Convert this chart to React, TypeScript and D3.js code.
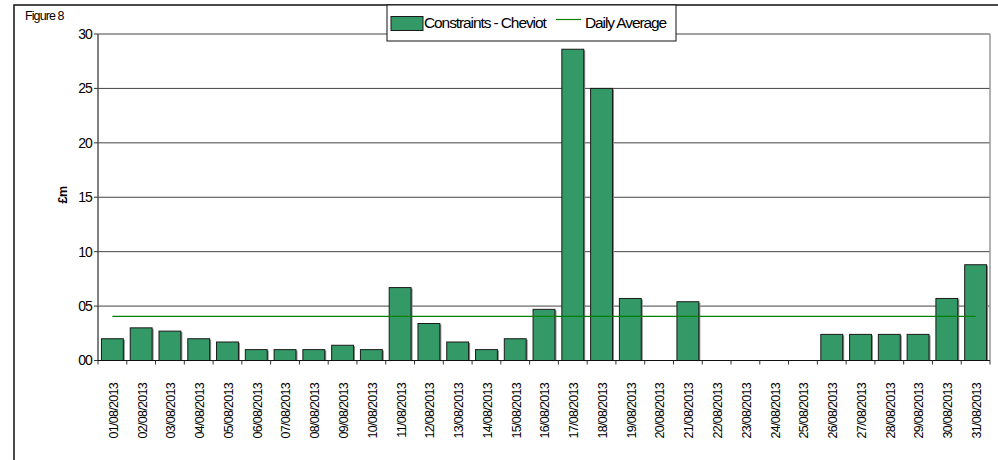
import * as d3 from "d3";

const dates = [
  "01/08/2013", "02/08/2013", "03/08/2013", "04/08/2013", "05/08/2013",
  "06/08/2013", "07/08/2013", "08/08/2013", "09/08/2013", "10/08/2013",
  "11/08/2013", "12/08/2013", "13/08/2013", "14/08/2013", "15/08/2013",
  "16/08/2013", "17/08/2013", "18/08/2013", "19/08/2013", "20/08/2013",
  "21/08/2013", "22/08/2013", "23/08/2013", "24/08/2013", "25/08/2013",
  "26/08/2013", "27/08/2013", "28/08/2013", "29/08/2013", "30/08/2013",
  "31/08/2013",
];

const constraints = [
  2.0, 3.0, 2.7, 2.0, 1.7, 1.0, 1.0, 1.0, 1.4, 1.0,
  6.7, 3.4, 1.7, 1.0, 2.0, 4.7, 28.6, 25.0, 5.7, 0,
  5.4, 0, 0, 0, 0, 2.4, 2.4, 2.4, 2.4, 5.7,
  8.8,
];

const dailyAverage = [
  4.05, 4.05, 4.05, 4.05, 4.05, 4.05, 4.05, 4.05, 4.05, 4.05,
  4.05, 4.05, 4.05, 4.05, 4.05, 4.05, 4.05, 4.05, 4.05, 4.05,
  4.05, 4.05, 4.05, 4.05, 4.05, 4.05, 4.05, 4.05, 4.05, 4.05,
  4.05,
];

const yTicks = [0, 5, 10, 15, 20, 25, 30];
const yTickLabels = ["00", "05", "10", "15", "20", "25", "30"];

const font = "'Liberation Sans', Arial, sans-serif";
const barFill = "#339966";

function App() {
  const width = 998;
  const height = 460;
  const marginLeft = 98;
  const marginRight = 8;
  const marginTop = 34;
  const plotBottom = 360.5;

  const x = d3
    .scaleBand()
    .domain(dates)
    .range([marginLeft, width - marginRight])
    .paddingInner(0.24)
    .paddingOuter(0.12);
  const step = x.step();
  const y = d3.scaleLinear().domain([0, 30]).range([plotBottom, marginTop]);

  const line = d3
    .line<number>()
    .x((_, i) => (x(dates[i]) ?? 0) + x.bandwidth() / 2)
    .y((d) => y(d));

  const boundaries = d3.range(dates.length + 1).map((i) => marginLeft + i * ((width - marginRight - marginLeft) / dates.length));

  return (
    <svg
      width={width}
      height={height}
      style={{ position: "absolute", left: 0, top: 0, background: "#fff" }}
      fontFamily={font}
    >
      <rect x={14} y={5} width={1000} height={500} fill="#fff" stroke="#111" strokeWidth={1.5} />
      <text x={25} y={20} fontSize={12.5} letterSpacing={-0.9}>
        Figure 8
      </text>

      {/* grid */}
      <g>
        {yTicks.map((t) => (
          <line
            key={t}
            x1={marginLeft}
            x2={width - marginRight}
            y1={y(t)}
            y2={y(t)}
            stroke="#444"
            strokeWidth={1}
          />
        ))}
        <line x1={width - marginRight} x2={width - marginRight} y1={y(30)} y2={y(0)} stroke="#999" strokeWidth={1.5} />
      </g>

      {/* bars */}
      <g>
        {constraints.map((v, i) =>
          v > 0 ? (
            <g key={i}>
              <rect
                x={(x(dates[i]) ?? 0) + 1.5}
                y={y(v) + 1}
                width={x.bandwidth()}
                height={y(0) - y(v) - 1}
                fill="#888"
              />
              <rect
                x={x(dates[i]) ?? 0}
                y={y(v)}
                width={x.bandwidth()}
                height={y(0) - y(v)}
                fill={barFill}
                stroke="#1a1a1a"
                strokeWidth={1}
              />
            </g>
          ) : null
        )}
      </g>

      {/* average line */}
      <path d={line(dailyAverage) ?? ""} fill="none" stroke="#008000" strokeWidth={1.3} />

      {/* y axis */}
      <g>
        <line x1={marginLeft} x2={marginLeft} y1={y(30)} y2={y(0)} stroke="#555" strokeWidth={1.5} />
        {yTicks.map((t, i) => (
          <g key={t}>
            <line x1={marginLeft - 4} x2={marginLeft} y1={y(t)} y2={y(t)} stroke="#333" />
            <text
              x={marginLeft - 6}
              y={y(t)}
              dy="0.35em"
              textAnchor="end"
              fontSize={14}
              letterSpacing={-0.9}
            >
              {yTickLabels[i]}
            </text>
          </g>
        ))}
        <text
          transform={`translate(67,195) rotate(-90)`}
          textAnchor="middle"
          fontSize={12.5}
          fontWeight="bold"
          letterSpacing={-0.5}
        >
          £m
        </text>
      </g>

      {/* x axis */}
      <g>
        <line x1={marginLeft} x2={width - marginRight} y1={y(0)} y2={y(0)} stroke="#111" strokeWidth={1.2} />
        {boundaries.map((bx, i) => (
          <line key={i} x1={bx} x2={bx} y1={y(0)} y2={y(0) + 4} stroke="#333" />
        ))}
        {dates.map((d) => {
          const cx = marginLeft + (dates.indexOf(d) + 0.5) * step;
          return (
            <text
              key={d}
              transform={`translate(${cx + 1},383) rotate(-90)`}
              textAnchor="end"
              dy="0.35em"
              fontSize={12.5}
              letterSpacing={-0.7}
            >
              {d}
            </text>
          );
        })}
      </g>

      {/* legend */}
      <g>
        <rect x={387} y={5} width={289} height={36} fill="#fff" stroke="#111" strokeWidth={1} />
        <rect x={391} y={16.5} width={32} height={14} fill={barFill} stroke="#1a1a1a" strokeWidth={1} />
        <text x={424} y={28} fontSize={15.5} letterSpacing={-1.1}>
          Constraints - Cheviot
        </text>
        <line x1={556} x2={581} y1={19.5} y2={19.5} stroke="#008000" strokeWidth={1.2} />
        <text x={585} y={28} fontSize={15.5} letterSpacing={-1.1}>
          Daily Average
        </text>
      </g>
    </svg>
  );
}

export default App;
